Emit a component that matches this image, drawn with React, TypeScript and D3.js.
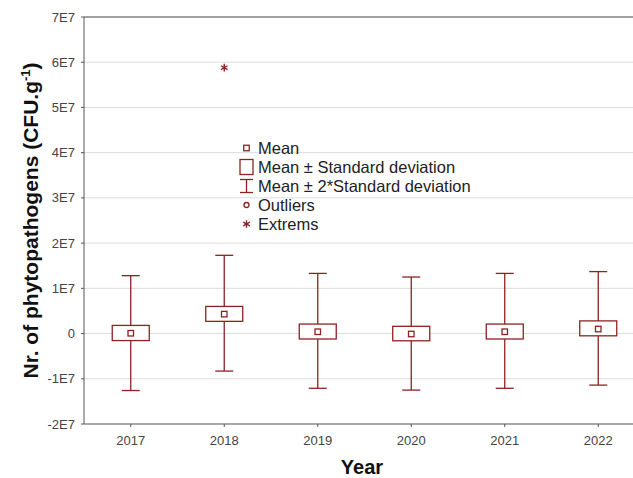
import React from "react";
import * as d3 from "d3";

const years = ["2017", "2018", "2019", "2020", "2021", "2022"];
const means = [0.007e7, 0.43e7, 0.04e7, -0.01e7, 0.04e7, 0.1e7];
const boxHigh = [0.18e7, 0.6e7, 0.21e7, 0.16e7, 0.21e7, 0.28e7];
const boxLow = [-0.155e7, 0.27e7, -0.12e7, -0.16e7, -0.12e7, -0.05e7];
const whiskHigh = [1.28e7, 1.73e7, 1.33e7, 1.25e7, 1.33e7, 1.37e7];
const whiskLow = [-1.26e7, -0.83e7, -1.21e7, -1.25e7, -1.21e7, -1.14e7];
const extremes = [{ year: "2018", value: 5.88e7 }];
const yTicks = [-2e7, -1e7, 0, 1e7, 2e7, 3e7, 4e7, 5e7, 6e7, 7e7];
const yTickLabels = ["-2E7", "-1E7", "0", "1E7", "2E7", "3E7", "4E7", "5E7", "6E7", "7E7"];
const legendItems = ["Mean", "Mean ± Standard deviation", "Mean ± 2*Standard deviation", "Outliers", "Extrems"];

const RED = "#8e2222";
const FONT = "Liberation Sans, Arial, sans-serif";

function Star({ x, y, r }: { x: number; y: number; r: number }) {
  const angles = [90, 30, -30];
  return (
    <g stroke={RED} strokeWidth={1.4}>
      {angles.map((a) => {
        const dx = r * Math.cos((a * Math.PI) / 180);
        const dy = r * Math.sin((a * Math.PI) / 180);
        return <line key={a} x1={x - dx} y1={y - dy} x2={x + dx} y2={y + dy} />;
      })}
    </g>
  );
}

export default function App() {
  const W = 633, H = 478;
  const left = 84, top = 17, bottom = 424;
  const bandW = 93.5;
  const x = d3.scaleBand().domain(years).range([left, left + bandW * years.length]).padding(0);
  const y = d3.scaleLinear().domain([-2e7, 7e7]).range([bottom, top]);
  const cx = (yr: string) => (x(yr) as number) + x.bandwidth() / 2;
  const right = left + bandW * years.length;

  const lx = 246.5;
  const ly0 = 148;
  const lstep = 19;

  return (
    <svg width={W} height={H} style={{ position: "absolute", left: 0, top: 0, background: "#fff" }}>
      <rect x={0} y={0} width={W} height={H} fill="#fff" />
      {yTicks.map((t, i) => (
        <g key={i}>
          {i > 0 && <line x1={left} x2={right} y1={y(t)} y2={y(t)} stroke="#dcdcdc" strokeWidth={1} />}
          <line x1={left - 3} x2={left} y1={y(t)} y2={y(t)} stroke="#555" />
          <text x={75} y={y(t) + 4.5} textAnchor="end" fontFamily={FONT} fontSize={13} fill="#444">{yTickLabels[i]}</text>
        </g>
      ))}
      <line x1={left} x2={right} y1={top} y2={top} stroke="#555" strokeWidth={1} />
      <line x1={left} x2={left} y1={top} y2={bottom} stroke="#555" strokeWidth={1} />
      <line x1={left} x2={right} y1={bottom} y2={bottom} stroke="#555" strokeWidth={1} />
      {years.map((yr) => (
        <g key={yr}>
          <line x1={cx(yr)} x2={cx(yr)} y1={bottom} y2={bottom + 3} stroke="#555" />
          <text x={cx(yr)} y={444.5} textAnchor="middle" fontFamily={FONT} fontSize={13} fill="#444">{yr}</text>
        </g>
      ))}
      {years.map((yr, i) => {
        const c = cx(yr);
        const bw = 37, cw = 18, ms = 5.5;
        return (
          <g key={"b" + yr} stroke={RED} strokeWidth={1.3} fill="none">
            <line x1={c} x2={c} y1={y(whiskHigh[i])} y2={y(boxHigh[i])} />
            <line x1={c} x2={c} y1={y(boxLow[i])} y2={y(whiskLow[i])} />
            <line x1={c - cw / 2} x2={c + cw / 2} y1={y(whiskHigh[i])} y2={y(whiskHigh[i])} />
            <line x1={c - cw / 2} x2={c + cw / 2} y1={y(whiskLow[i])} y2={y(whiskLow[i])} />
            <rect x={c - bw / 2} y={y(boxHigh[i])} width={bw} height={y(boxLow[i]) - y(boxHigh[i])} fill="#fff" />
            <rect x={c - ms / 2} y={y(means[i]) - ms / 2} width={ms} height={ms} />
          </g>
        );
      })}
      {extremes.map((e, i) => (
        <Star key={"e" + i} x={cx(e.year)} y={y(e.value)} r={3.8} />
      ))}
      <g>
        <rect x={lx - 2.75} y={ly0 - 2.75} width={5.5} height={5.5} fill="none" stroke={RED} strokeWidth={1.3} />
        <rect x={lx - 6.5} y={ly0 + lstep - 7.5} width={13} height={15} fill="none" stroke={RED} strokeWidth={1.3} />
        <g stroke={RED} strokeWidth={1.3}>
          <line x1={lx} x2={lx} y1={ly0 + 2 * lstep - 6.5} y2={ly0 + 2 * lstep + 6.5} />
          <line x1={lx - 6.5} x2={lx + 6.5} y1={ly0 + 2 * lstep - 6.5} y2={ly0 + 2 * lstep - 6.5} />
          <line x1={lx - 6.5} x2={lx + 6.5} y1={ly0 + 2 * lstep + 6.5} y2={ly0 + 2 * lstep + 6.5} />
        </g>
        <circle cx={lx} cy={ly0 + 3 * lstep} r={2.5} fill="none" stroke={RED} strokeWidth={1.3} />
        <Star x={lx} y={ly0 + 4 * lstep} r={3.8} />
        {legendItems.map((t, i) => (
          <text key={t} x={258} y={ly0 + i * lstep + 6} fontFamily={FONT} fontSize={16.5} fill="#222">{t}</text>
        ))}
      </g>
      <text x={362} y={474} textAnchor="middle" fontFamily={FONT} fontSize={20} fontWeight="bold" fill="#111">Year</text>
      <text transform={`translate(38,${(top + bottom) / 2}) rotate(-90)`} textAnchor="middle" fontFamily={FONT} fontSize={21} fontWeight="bold" fill="#111">
        Nr. of phytopathogens (CFU.g<tspan dy={-8} fontSize={13}>-1</tspan><tspan dy={8}>)</tspan>
      </text>
    </svg>
  );
}
